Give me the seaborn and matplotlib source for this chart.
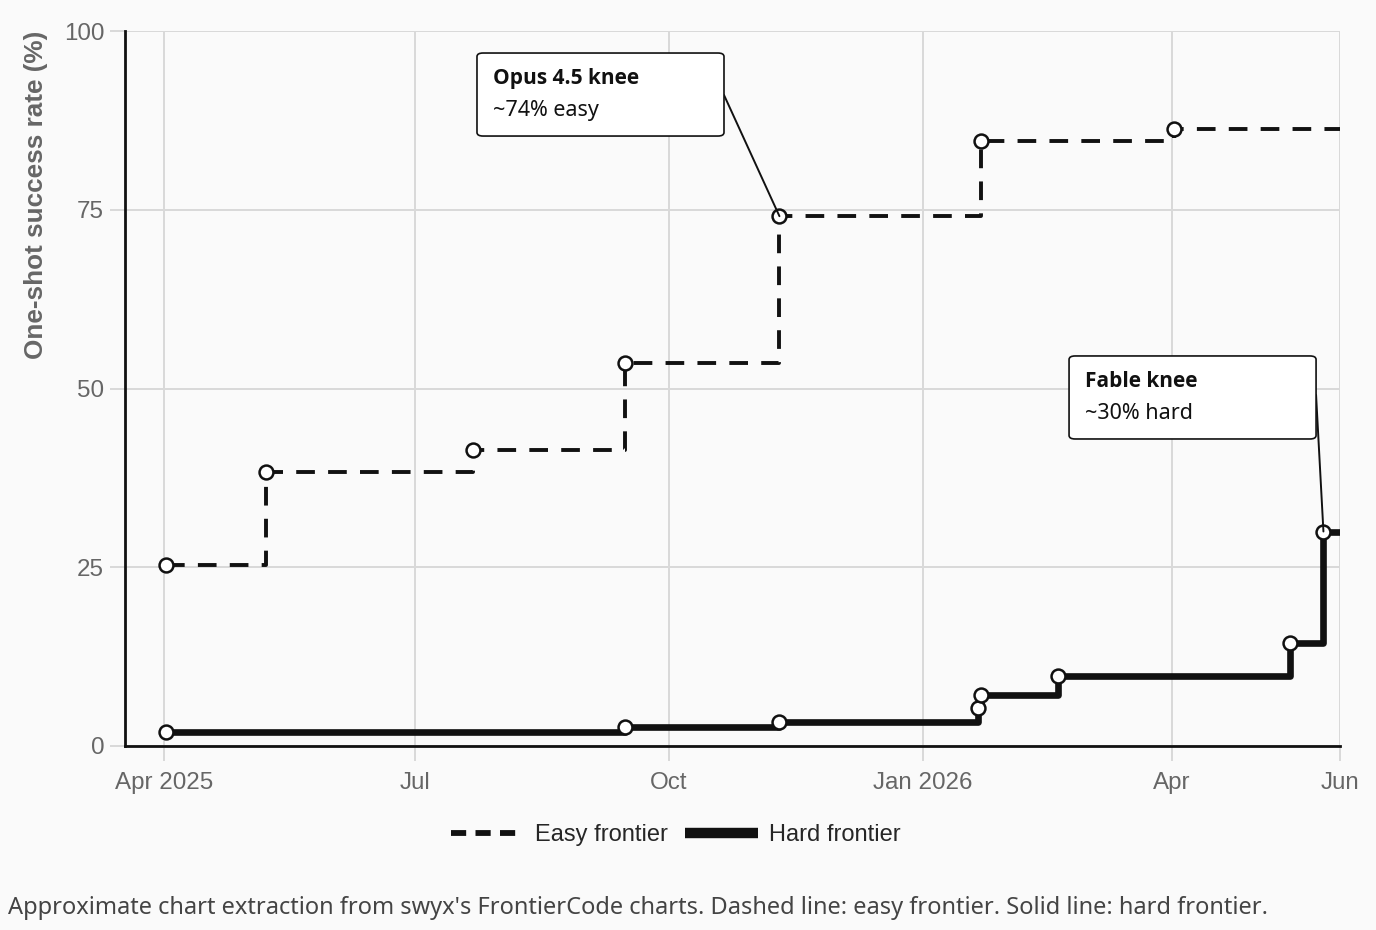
import matplotlib
matplotlib.use('Agg')
import matplotlib.pyplot as plt
from matplotlib.lines import Line2D
from matplotlib.patches import FancyBboxPatch
import pandas as pd
import seaborn as sns

# Frontier points
easy_dates = ['2025-04-02', '2025-05-08', '2025-07-22', '2025-09-15',
              '2025-11-10', '2026-01-22', '2026-04-02']
easy_vals = [25.3, 38.3, 41.4, 53.5, 74.1, 84.6, 86.3]

hard_dates = ['2025-04-02', '2025-09-15', '2025-11-10', '2026-01-21',
              '2026-01-22', '2026-02-19', '2026-05-14', '2026-05-26']
hard_vals = [2.0, 2.7, 3.3, 5.3, 7.1, 9.8, 14.4, 30.0]

tick_dates = ['2025-04-01', '2025-07-01', '2025-10-01', '2026-01-01',
              '2026-04-01', '2026-06-01']
tick_labels = ['Apr 2025', 'Jul', 'Oct', 'Jan 2026', 'Apr', 'Jun']
y_ticks = [0, 25, 50, 75, 100]
x_start, x_end = '2025-03-18', '2026-06-01'

series_labels = ['Easy frontier', 'Hard frontier']
knee_titles = ['Opus 4.5 knee', 'Fable knee']
knee_notes = ['~74% easy', '~30% hard']
knee_targets = [('2025-11-10', 74.1), ('2026-05-26', 30.0)]

caption = ("Approximate chart extraction from swyx's FrontierCode charts. "
           "Dashed line: easy frontier. Solid line: hard frontier.")

sns.set_theme(style='white')
plt.rcParams['font.family'] = ['Liberation Sans', 'DejaVu Sans']
plex_like = ['Noto Sans', 'DejaVu Sans']
plex_bold = ['Open Sans', 'DejaVu Sans']

bg = '#fafafa'
ink = '#111111'
grid_c = '#d9d9d9'
easy_dash = (0, (4.8, 3.4))

fig = plt.figure(figsize=(13.76, 9.30), dpi=100, facecolor=bg)
ax = fig.add_axes([125 / 1376, 1 - 746 / 930, 1215 / 1376, 715 / 930])
ax.set_facecolor(bg)


def frames(dates, vals):
    pts = pd.DataFrame({'date': pd.to_datetime(dates), 'value': vals})
    # the step line carries the last value to the right edge
    tail = pd.DataFrame({'date': [pd.Timestamp(x_end)], 'value': [vals[-1]]})
    return pts, pd.concat([pts, tail], ignore_index=True)


easy_pts, easy_line = frames(easy_dates, easy_vals)
hard_pts, hard_line = frames(hard_dates, hard_vals)

sns.lineplot(data=easy_line, x='date', y='value', ax=ax, color=ink, lw=2.8,
             linestyle=easy_dash, drawstyle='steps-post', zorder=3,
             legend=False)
sns.lineplot(data=hard_line, x='date', y='value', ax=ax, color=ink, lw=4.8,
             drawstyle='steps-post', zorder=3, solid_capstyle='butt',
             legend=False)

for pts in (easy_pts, hard_pts):
    sns.scatterplot(data=pts, x='date', y='value', ax=ax, s=100,
                    facecolor='white', edgecolor=ink, linewidth=1.8, zorder=4,
                    legend=False)

ax.set_xlim(pd.Timestamp(x_start), pd.Timestamp(x_end))
ax.set_ylim(0, 100)
ax.set_xticks(pd.to_datetime(tick_dates))
ax.set_xticklabels(tick_labels)
ax.set_yticks(y_ticks)
ax.grid(True, color=grid_c, lw=1.4)
ax.set_axisbelow(True)
ax.tick_params(bottom=True, left=True, length=11, width=1.4, color=grid_c,
               labelcolor='#666666', labelsize=17.4)
ax.tick_params(axis='x', pad=8)
ax.tick_params(axis='y', pad=4)
for side in ('top', 'right'):
    ax.spines[side].set_visible(False)
for side in ('left', 'bottom'):
    ax.spines[side].set_color(ink)
    ax.spines[side].set_linewidth(2)
    ax.spines[side].set_zorder(2.5)

ax.set_xlabel('')
ax.set_ylabel('One-shot success rate (%)', fontsize=18.8, fontweight='bold',
              color='#666666', loc='top')
ax.yaxis.set_label_coords(-0.063, 1.0)

# callout boxes: (left, bottom, width, height) in axes fraction
box_rects = [(0.2897, 0.8531, 0.2033, 0.1161), (0.7770, 0.4294, 0.2033, 0.1161)]
box_anchor_y = [0.9105, 0.491]
for rect, title, note, target, ay in zip(box_rects, knee_titles, knee_notes,
                                         knee_targets, box_anchor_y):
    x0, y0, w, h = rect
    ax.add_patch(FancyBboxPatch((x0, y0), w, h, transform=ax.transAxes,
                                boxstyle='round,pad=0,rounding_size=0.005',
                                facecolor='white', edgecolor=ink, lw=1.2,
                                zorder=6, clip_on=False))
    ax.text(x0 + 0.0132, y0 + 0.0728, title, transform=ax.transAxes,
            fontsize=15, fontweight='bold', color=ink, va='baseline',
            family=plex_bold, zorder=7)
    ax.text(x0 + 0.0132, y0 + 0.028, note, transform=ax.transAxes,
            fontsize=15.5, color=ink, va='baseline', family=plex_like, zorder=7)
    ax.annotate('', xy=(pd.Timestamp(target[0]), target[1]), xycoords='data',
                xytext=(x0 + w, ay), textcoords='axes fraction',
                arrowprops=dict(arrowstyle='-', color=ink, lw=1.4,
                                shrinkA=0, shrinkB=0), zorder=5)

handles = [Line2D([], [], color=ink, lw=4.2, linestyle=(0, (2.6, 1.6))),
           Line2D([], [], color=ink, lw=7.5, solid_capstyle='butt')]
fig.legend(handles, series_labels, loc='center',
           bbox_to_anchor=(676 / 1376, 1 - 835 / 930), ncol=2, frameon=False,
           fontsize=17, handlelength=3.1, handletextpad=0.47,
           columnspacing=0.72)

fig.text(8 / 1376, 1 - 908 / 930, caption, fontsize=17, color='#444444',
         va='center', family=plex_like)

fig.savefig('out.png', dpi=100, facecolor=bg)
